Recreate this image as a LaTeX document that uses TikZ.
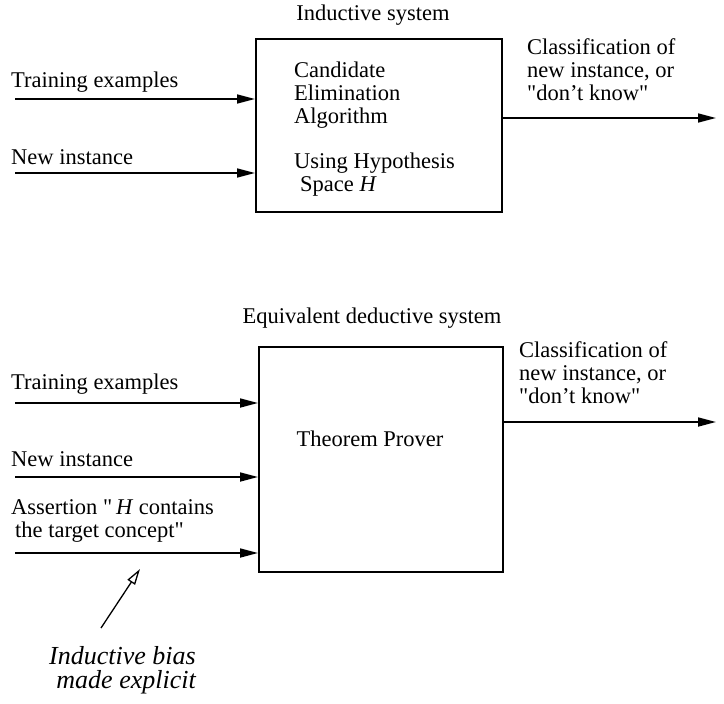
\documentclass[tikz,border=0pt]{standalone}
\usepackage{fontspec}
\setmainfont{Liberation Serif}
\usetikzlibrary{arrows.meta, positioning}

\begin{document}
\begin{tikzpicture}[
    x=1pt, y=-1pt,
    font=\fontsize{22.5}{23}\selectfont,
    system/.style={draw, line width=1.5pt, inner sep=0pt, anchor=north west},
    txt/.style={inner sep=0pt, anchor=base west, align=left},
    arrow/.style={-{Triangle[length=18pt, width=9pt]}, line width=1.7pt},
    hint/.style={-{Triangle[open, length=16pt, width=9pt]}, line width=1.3pt}
]
    \useasboundingbox (0,0) rectangle (724,704);

    % Inductive system
    \node[system, minimum width=246pt, minimum height=173pt] (induct) at (255,38) {};
    \node[txt, anchor=base] (inductlbl) at (373,20) {Inductive system};
    \node[txt] (cea) at (294,123) {Candidate\\Elimination\\Algorithm};
    \node[txt] (hyp) at (294,191) {Using Hypothesis\\\hspace*{6pt}Space \textit{H}};
    \node[txt] (train1) at (11,87) {Training examples};
    \node[txt] (new1) at (11,164) {New instance};
    \node[txt] (out1) at (527,100) {Classification of\\new instance, or\\\textquotedbl don’t know\textquotedbl};
    \coordinate (train1s) at (15,99);
    \coordinate (new1s) at (15,173);
    \coordinate (out1e) at (716,118);

    % Equivalent deductive system
    \node[system, minimum width=244pt, minimum height=225pt] (deduct) at (258,346) {};
    \node[txt, anchor=base] (deductlbl) at (372,323) {Equivalent deductive system};
    \node[txt, anchor=base] (prover) at (370,446) {Theorem Prover};
    \node[txt] (train2) at (11,389) {Training examples};
    \node[txt] (new2) at (11,466) {New instance};
    \node[txt] (assert) at (11,537) {Assertion \textquotedbl\,\textit{H} contains\\\hspace*{4pt}the target concept\textquotedbl};
    \node[txt] (out2) at (519,403) {Classification of\\new instance, or\\\textquotedbl don’t know\textquotedbl};
    \coordinate (train2s) at (15,403);
    \coordinate (new2s) at (15,477);
    \coordinate (assert2s) at (15,553);
    \coordinate (out2e) at (716,422);

    % Bias note
    \node[txt, anchor=base east, align=right, font=\fontsize{26}{24}\selectfont\itshape] (bias) at (196,688) {Inductive bias\\made explicit};
    \coordinate (biastail) at (101,628);
    \coordinate (biastip) at (140,569);

    % Relationships
    \draw[arrow] (train1s) -- (train1s -| induct.west);
    \draw[arrow] (new1s) -- (new1s -| induct.west);
    \draw[arrow] (out1e -| induct.east) -- (out1e);
    \draw[arrow] (train2s) -- (train2s -| deduct.west);
    \draw[arrow] (new2s) -- (new2s -| deduct.west);
    \draw[arrow] (assert2s) -- (assert2s -| deduct.west);
    \draw[arrow] (out2e -| deduct.east) -- (out2e);
    \draw[hint] (biastail) -- (biastip);
\end{tikzpicture}
\end{document}
